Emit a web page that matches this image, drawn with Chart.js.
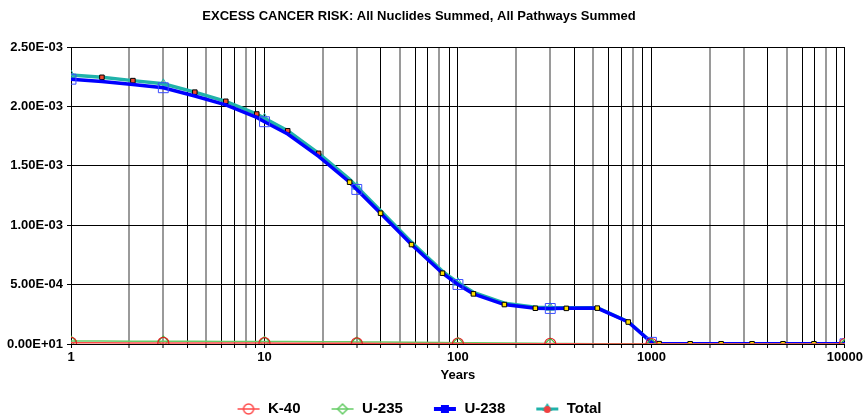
<!DOCTYPE html>
<html><head><meta charset="utf-8">
<script src="https://cdn.jsdelivr.net/npm/chart.js@4/dist/chart.umd.min.js"></script>
<style>html,body{margin:0;padding:0;background:#fff;}#wrap{width:865px;height:419px;position:relative;}</style>
</head><body><div id="wrap"><canvas id="c"></canvas></div>
<script>
// ---- data ----
const years = [1, 1.445, 2.089, 3, 4.365, 6.310, 9.120, 10, 13.18, 19.05, 27.54, 30, 39.81, 57.54, 83.18, 100, 120.2, 173.8, 251.2, 300, 363.1, 524.8, 758.6, 1000, 1096, 1585, 2291, 3311, 4786, 6918, 10000];
const majorYears = [1, 3, 10, 30, 100, 300, 1000, 10000];
const total = [2.264e-3, 2.245e-3, 2.217e-3, 2.190e-3, 2.120e-3, 2.043e-3, 1.936e-3, 1.900e-3, 1.795e-3, 1.605e-3, 1.386e-3, 1.324e-3, 1.122e-3, 0.856e-3, 0.612e-3, 0.516e-3, 0.435e-3, 0.343e-3, 0.309e-3, 0.306e-3, 0.306e-3, 0.306e-3, 0.188e-3, 0.015e-3, 0.003e-3, 0.002e-3, 0.002e-3, 0.002e-3, 0.002e-3, 0.002e-3, 0.002e-3];
const u238 = [2.229e-3, 2.210e-3, 2.184e-3, 2.157e-3, 2.088e-3, 2.013e-3, 1.907e-3, 1.871e-3, 1.768e-3, 1.579e-3, 1.362e-3, 1.301e-3, 1.101e-3, 0.837e-3, 0.596e-3, 0.501e-3, 0.422e-3, 0.332e-3, 0.301e-3, 0.299e-3, 0.300e-3, 0.302e-3, 0.185e-3, 0.014e-3, 0.003e-3, 0.002e-3, 0.002e-3, 0.002e-3, 0.002e-3, 0.002e-3, 0.002e-3];
const k40 = [1.0e-5, 1.0e-5, 9e-6, 9e-6, 9e-6, 8e-6, 8e-6, 8e-6, 7e-6, 7e-6, 6e-6, 6e-6, 5e-6, 5e-6, 4e-6, 4e-6, 3e-6, 3e-6, 2e-6, 2e-6, 2e-6, 1e-6, 1e-6, 0, 0, 0, 0, 0, 0, 0, 0];
const u235 = [2.5e-5, 2.5e-5, 2.4e-5, 2.4e-5, 2.3e-5, 2.2e-5, 2.1e-5, 2.1e-5, 2.0e-5, 1.9e-5, 1.8e-5, 1.7e-5, 1.6e-5, 1.4e-5, 1.2e-5, 1.1e-5, 1.0e-5, 8e-6, 6e-6, 5e-6, 4e-6, 3e-6, 2e-6, 1e-6, 0, 0, 0, 0, 0, 0, 0];
const seriesNames = ['K-40', 'U-235', 'U-238', 'Total'];
const xTickValues = [1,2,3,4,5,6,7,8,9,10,20,30,40,50,60,70,80,90,100,200,300,400,500,600,700,800,900,1000,2000,3000,4000,5000,6000,7000,8000,9000,10000];
const xTickLabels = {1:'1', 10:'10', 100:'100', 1000:'1000', 10000:'10000'};
const yTickValues = [0, 0.0005, 0.001, 0.0015, 0.002, 0.0025];
const yTickLabels = ['0.00E+01', '5.00E-04', '1.00E-03', '1.50E-03', '2.00E-03', '2.50E-03'];
const titleText = 'EXCESS CANCER RISK: All Nuclides Summed, All Pathways Summed';
const xTitle = 'Years';

// ---- styling ----
const FONT = "'Liberation Sans', Arial, Helvetica, sans-serif";
const C = { k40: '#ff4a4a', u235: '#66cc66', u238: '#0000ff', total: '#20b2aa' };
const isMajor = i => majorYears.includes(years[i]);
const early = i => years[i] < 25;
const pts = arr => years.map((x, i) => ({ x: x, y: arr[i] }));
const sig = v => Math.round(v / Math.pow(10, Math.floor(Math.log10(v) + 1e-9)));
const grayLine = v => [2, 3, 5, 8].includes(sig(v));

function icon(kind) {
  const c = document.createElement('canvas');
  c.width = 24; c.height = 16;
  const g = c.getContext('2d');
  const cy = 8;
  g.lineCap = 'butt';
  if (kind === 'k40') {
    g.strokeStyle = C.k40; g.lineWidth = 1.5;
    g.beginPath(); g.moveTo(1, cy); g.lineTo(23, cy); g.stroke();
    g.beginPath(); g.arc(12, cy, 5, 0, Math.PI * 2); g.stroke();
  } else if (kind === 'u235') {
    g.strokeStyle = C.u235; g.lineWidth = 1.5;
    g.beginPath(); g.moveTo(1, cy); g.lineTo(23, cy); g.stroke();
    g.beginPath(); g.moveTo(12, cy - 5); g.lineTo(17, cy); g.lineTo(12, cy + 5); g.lineTo(7, cy); g.closePath(); g.stroke();
  } else if (kind === 'u238') {
    g.strokeStyle = C.u238; g.lineWidth = 4;
    g.beginPath(); g.moveTo(1, cy); g.lineTo(23, cy); g.stroke();
    g.fillStyle = C.u238; g.fillRect(8, cy - 4, 8, 8);
  } else {
    g.strokeStyle = C.total; g.lineWidth = 3;
    g.beginPath(); g.moveTo(1, cy); g.lineTo(23, cy); g.stroke();
    g.fillStyle = C.total; g.beginPath(); g.moveTo(12, cy - 6); g.lineTo(17, cy + 2); g.lineTo(7, cy + 2); g.closePath(); g.fill();
    g.fillStyle = '#f04040'; g.beginPath(); g.arc(12, cy + 0.5, 3.5, 0, Math.PI * 2); g.fill();
  }
  return c;
}
const icons = [icon('k40'), icon('u235'), icon('u238'), icon('total')];

const datasets = [
  { label: seriesNames[0], data: pts(k40), borderColor: C.k40, borderWidth: 1.5,
    pointStyle: 'circle', pointRadius: c => isMajor(c.dataIndex) ? 5.5 : 0,
    pointBorderColor: '#e02020', pointBackgroundColor: 'rgba(0,0,0,0)', pointBorderWidth: 1.2, order: 0 },
  { label: seriesNames[1], data: pts(u235), borderColor: C.u235, borderWidth: 1.5,
    pointStyle: 'rectRot', pointRadius: c => isMajor(c.dataIndex) ? 5 : 0,
    pointBorderColor: '#3cb83c', pointBackgroundColor: 'rgba(0,0,0,0)', pointBorderWidth: 1.2, order: 0 },
  { label: seriesNames[2], data: pts(u238), borderColor: C.u238, borderWidth: 3.5,
    pointStyle: 'rect',
    pointRadius: c => isMajor(c.dataIndex) ? 7 : (early(c.dataIndex) ? 0 : 3.2),
    pointBorderColor: c => isMajor(c.dataIndex) ? '#3a4cff' : '#000',
    pointBackgroundColor: c => isMajor(c.dataIndex) ? 'rgba(0,0,0,0)' : '#ffe000',
    pointBorderWidth: 1, order: 0 },
  { label: seriesNames[3], data: pts(total), borderColor: C.total, borderWidth: 3.5,
    pointStyle: c => isMajor(c.dataIndex) ? 'triangle' : 'rect',
    pointRadius: c => isMajor(c.dataIndex) ? 5 : (early(c.dataIndex) ? 3.2 : 0),
    pointBorderColor: c => isMajor(c.dataIndex) ? C.total : '#000',
    pointBackgroundColor: c => isMajor(c.dataIndex) ? 'rgba(0,0,0,0)' : '#f04a30',
    pointBorderWidth: 1, order: 1 }
];

new Chart(document.getElementById('c'), {
  type: 'line',
  data: { datasets: datasets },
  options: {
    responsive: true, maintainAspectRatio: false, animation: false,
    devicePixelRatio: 1,
    layout: { padding: { left: -10, right: 17, top: 9, bottom: -7.5 } },
    elements: { line: { tension: 0 } },
    plugins: {
      tooltip: { enabled: false },
      title: { display: true, text: titleText, color: '#000',
        font: { family: FONT, size: 13, weight: 'bold' }, padding: { top: 0, bottom: 22.4 } },
      legend: { position: 'bottom',
        labels: { color: '#000', font: { family: FONT, size: 15, weight: 'bold' },
          usePointStyle: true, pointStyleWidth: 24, padding: 30,
          sort: (a, b) => a.datasetIndex - b.datasetIndex,
          generateLabels: chart => Chart.defaults.plugins.legend.labels.generateLabels(chart)
            .map(it => Object.assign(it, { pointStyle: icons[it.datasetIndex] })) } }
    },
    scales: {
      x: { type: 'logarithmic', min: 1, max: 10000,
        afterBuildTicks: s => { s.ticks = xTickValues.map(v => ({ value: v })); },
        afterFit: s => { s.height = 27.5; },
        ticks: { autoSkip: false, maxRotation: 0, padding: 2, color: '#000',
          font: { family: FONT, size: 13, weight: 'bold' },
          callback: v => xTickLabels[v] || '' },
        grid: { color: c => (c.tick && grayLine(c.tick.value)) ? '#9a9a9a' : '#000',
          lineWidth: c => (c.tick && grayLine(c.tick.value)) ? 2 : 1,
          tickColor: '#000', tickWidth: 1, tickLength: 4 },
        border: { color: '#000', width: 1 },
        title: { display: true, text: xTitle, color: '#000',
          font: { family: FONT, size: 13, weight: 'bold' }, padding: { top: 0, bottom: -11.3 } } },
      y: { type: 'linear', min: 0, max: 0.0025,
        afterBuildTicks: s => { s.ticks = yTickValues.map(v => ({ value: v })); },
        afterFit: s => { s.width = 81; },
        ticks: { padding: 4, color: '#000', font: { family: FONT, size: 13, weight: 'bold' },
          callback: (v, i) => yTickLabels[i] },
        grid: { color: '#000', lineWidth: 1, tickLength: 4 },
        border: { color: '#000', width: 1 } }
    }
  }
});
</script></body></html>
